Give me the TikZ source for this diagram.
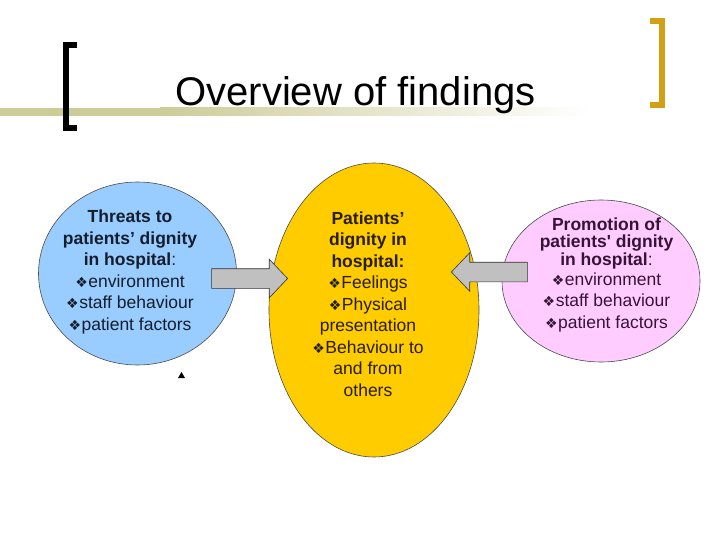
\documentclass[tikz,border=0pt]{standalone}
\usepackage{fontspec}
\setmainfont{Liberation Sans}
\newfontfamily\dingfont{DejaVu Sans}
\usetikzlibrary{shapes.geometric,shapes.arrows}

\definecolor{threatblue}{RGB}{153,204,255}
\definecolor{dignityyellow}{RGB}{255,204,0}
\definecolor{promopink}{RGB}{255,204,255}
\definecolor{arrowgrey}{RGB}{192,192,192}
\definecolor{bracketgold}{RGB}{210,160,20}
\definecolor{ruleolive}{RGB}{204,204,153}
\definecolor{threatink}{RGB}{20,30,45}
\definecolor{dignityink}{RGB}{40,30,0}
\definecolor{promoink}{RGB}{55,20,55}

\newcommand*{\bul}{{\dingfont\fontsize{14}{14}\selectfont ❖}\kern0.5pt}
\newcommand*{\arrowlen}{76pt}

\begin{document}
\begin{tikzpicture}
[
	x=1pt,y=-1pt,
	blob/.style={ellipse,draw=black!70,line width=0.6pt,inner sep=0pt},
	blobtext/.style={align=center,anchor=base,font=\fontsize{17.5}{21.5}\selectfont},
	blockarrow/.style={single arrow,draw=black!80,fill=arrowgrey,line width=0.6pt,
		minimum height=\arrowlen,inner xsep=0pt,inner ysep=9.5pt,
		single arrow head extend=9.5pt,single arrow tip angle=93,anchor=tip}
]

	\fill[white] (0,0) rectangle (720,540);
	\useasboundingbox (0,0) rectangle (720,540);

	% title rule and brackets
	\fill[ruleolive] (0,108) rectangle (160,116);
	\shade[left color=ruleolive,right color=white] (160,108) rectangle (590,116);
	\draw[line width=6pt] (77,45) -| (65.5,128.5) -- (77,128.5);
	\draw[bracketgold,line width=6pt] (650,21) -| (662,105) -- (650,105);

	\node[anchor=base,font=\fontsize{40}{40}\selectfont] (title) at (355.5,106) {Overview of findings};

	% ellipses
	\node[blob,fill=threatblue,minimum width=198pt,minimum height=183pt] (threat) at (137.5,273.5) {};
	\node[blob,fill=dignityyellow,minimum width=210pt,minimum height=294pt] (dignity) at (374,310) {};
	\node[blob,fill=promopink,minimum width=198pt,minimum height=162pt] (promo) at (601,281) {};

	% texts, placed by the baseline of their last line
	\node[blobtext,text=threatink] (threattxt) at (130,330)
		{\bfseries Threats to\\\bfseries patients’ dignity\\{\bfseries in hospital}:\\
		 \bul environment\\\bul staff behaviour\\\bul patient factors};
	\node[blobtext,text=dignityink] (dignitytxt) at (368,396)
		{\bfseries Patients’\\\bfseries dignity in\\\bfseries hospital:\\
		 \bul Feelings\\\bul Physical\\presentation\\\bul Behaviour to\\and from\\others};
	\node[blobtext,text=promoink] (promotxt) at (606.5,328)
		{\bfseries Promotion of\\[-4pt]\bfseries patients\textquotesingle{} dignity\\[-4pt]{\bfseries in hospital}:\\[-1.5pt]
		 \bul environment\\\bul staff behaviour\\\bul patient factors};

	% arrows
	\node[blockarrow] (threatarrow) at (288,278.5) {};
	\node[blockarrow,shape border rotate=180] (promoarrow) at (451,272) {};

	\fill (178,378) -- (185,378) -- (181.5,372) -- cycle;

\end{tikzpicture}
\end{document}
